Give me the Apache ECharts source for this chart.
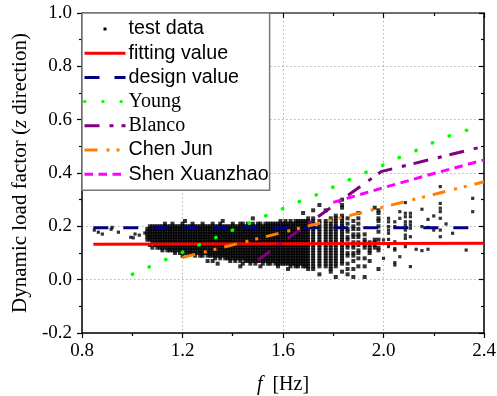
<!DOCTYPE html>
<html>
<head>
<meta charset="utf-8">
<script src="https://cdn.jsdelivr.net/npm/echarts@6/dist/echarts.min.js"></script>
<style>html,body{margin:0;padding:0;background:#fff}#c{width:497px;height:396px}</style>
</head>
<body>
<div id="c"></div>
<script>
// ---- data ----
const xTicks = [0.8, 1.2, 1.6, 2.0, 2.4];
const yTicks = [-0.2, 0.0, 0.2, 0.4, 0.6, 0.8, 1.0];

// test data, dense part: [f (Hz), list of load factors in hundredths]
const testColumns = [
 [1.06,[15,16,17,18,19]],
 [1.07,[13,15,16,17,18,19,20]],
 [1.08,[12,14,15,16,17,18,19,20]],
 [1.09,[13,14,15,16,17,18,19,20]],
 [1.10,[12,13,14,15,16,17,18,19,20]],
 [1.11,[12,13,14,15,16,17,18,19,20]],
 [1.12,[11,12,13,14,15,16,17,18,19,20]],
 [1.13,[12,13,14,15,16,17,18,19,20,21]],
 [1.14,[11,12,13,14,15,16,17,18,19,20]],
 [1.15,[11,12,13,14,15,16,17,18,19,20]],
 [1.16,[11,12,13,14,15,16,17,18,19,20,21]],
 [1.17,[10,11,12,13,14,15,16,17,18,19,20]],
 [1.18,[11,12,13,14,15,16,17,18,19,20]],
 [1.19,[10,11,12,13,14,15,16,17,18,19,20]],
 [1.20,[9,11,12,13,14,15,16,17,18,19,20,21]],
 [1.21,[10,11,12,13,14,15,16,17,18,19,20,22]],
 [1.22,[10,11,12,13,14,15,16,17,18,19,20]],
 [1.23,[10,11,12,13,14,15,16,17,18,19,20]],
 [1.24,[10,11,12,13,14,15,16,17,18,19,20,21]],
 [1.25,[9,10,11,12,13,14,15,16,17,18,19,20]],
 [1.26,[10,11,12,13,14,15,16,17,18,19,20]],
 [1.27,[9,10,11,12,13,14,15,16,17,18,19,20]],
 [1.28,[9,10,11,12,13,14,15,16,17,18,19,20,21]],
 [1.29,[10,11,12,13,14,15,16,17,18,19,20]],
 [1.30,[7,9,10,11,12,13,14,15,16,17,18,19,20]],
 [1.31,[9,10,11,12,13,14,15,16,17,18,19,20]],
 [1.32,[7,9,10,11,12,13,14,15,16,17,18,19,20,21]],
 [1.33,[8,9,10,11,12,13,14,15,16,17,18,19,20]],
 [1.34,[6,9,10,11,12,13,14,15,16,17,18,19,20]],
 [1.35,[8,9,10,11,12,13,14,15,16,17,18,19,20,21]],
 [1.36,[9,10,11,12,13,14,15,16,17,18,19,20,22]],
 [1.37,[8,9,10,11,12,13,14,15,16,17,18,19,20]],
 [1.38,[8,9,10,11,12,13,14,15,16,17,18,19,20]],
 [1.39,[7,8,9,10,11,12,13,14,15,16,17,18,19,20]],
 [1.40,[8,9,10,11,12,13,14,15,16,17,18,19,20,21]],
 [1.41,[7,8,9,10,11,12,13,14,15,16,17,18,19,20]],
 [1.42,[8,9,10,11,12,13,14,15,16,17,18,19,20]],
 [1.43,[5,7,8,9,10,11,12,13,14,15,16,17,18,19,20,21]],
 [1.44,[6,8,9,10,11,12,13,14,15,16,17,18,19,20,21]],
 [1.45,[7,8,9,10,11,12,13,14,15,16,17,18,19,20]],
 [1.46,[7,8,9,10,11,12,13,14,15,16,17,18,19,20,21]],
 [1.47,[6,7,8,9,10,11,12,13,14,15,16,17,18,19,20]],
 [1.48,[7,8,9,10,11,12,13,14,15,16,17,18,19,20,21,23]],
 [1.49,[6,7,8,9,10,11,12,13,14,15,16,17,18,19,20]],
 [1.50,[7,8,9,10,11,12,13,14,15,16,17,18,19,20,21]],
 [1.51,[5,7,8,9,10,11,12,13,14,15,16,17,18,19,20,21]],
 [1.52,[6,7,8,9,10,11,12,13,14,15,16,17,18,19,20]],
 [1.53,[7,8,9,10,11,12,13,14,15,16,17,18,19,20,21]],
 [1.54,[6,7,8,9,10,11,12,13,14,15,16,17,18,19,20,21]],
 [1.55,[6,7,8,9,10,11,12,13,14,15,16,17,18,19,20,21]],
 [1.56,[7,8,9,10,11,12,13,14,15,16,17,18,19,20,21]],
 [1.57,[6,7,8,9,10,11,12,13,14,15,16,17,18,19,20,21]],
 [1.58,[5,6,7,8,9,10,11,12,13,14,15,16,17,18,19,20,21]],
 [1.59,[6,7,8,9,10,11,12,13,14,15,16,17,18,19,20,21,22]],
 [1.60,[6,7,8,9,10,11,12,13,14,15,16,17,18,19,20,21]],
 [1.61,[6,7,8,9,10,11,12,13,14,15,16,17,18,19,20,21,22]],
 [1.62,[4,6,7,8,9,10,11,12,13,14,15,16,17,18,19,20,21]],
 [1.63,[5,6,7,8,9,10,11,12,13,14,15,16,17,18,19,20,21,22]],
 [1.64,[6,7,8,9,10,11,12,13,14,15,16,17,18,19,20,21]],
 [1.65,[5,6,7,8,9,10,11,12,13,14,15,16,17,18,19,20,21,22]],
 [1.66,[5,6,7,8,9,10,11,12,13,14,15,16,17,18,19,20,21,22]],
 [1.67,[6,7,8,9,10,11,12,13,14,15,16,17,18,19,20,21,22]],
 [1.68,[5,6,7,8,9,10,11,12,13,14,15,16,17,18,19,20,21,22,25]],
 [1.69,[5,6,7,8,9,10,11,12,13,14,15,16,17,18,19,20,21,22]],
 [1.70,[4,5,6,7,8,9,10,11,12,13,14,15,16,17,18,19,20,21,22,23]],
 [1.72,[4,5,6,7,8,9,10,11,12,13,14,15,16,17,18,19,20,21,22,23,26]],
 [1.745,[2,5,6,7,8,9,10,11,12,13,14,15,16,17,18,19,20,21,22,28]],
 [1.77,[5,6,7,8,9,10,11,12,13,14,15,16,17,18,19,20,21,22,26]],
 [1.79,[3,4,5,6,7,8,9,10,11,12,13,14,15,16,17,18,19,20,21,22,23]],
 [1.81,[1,5,6,7,8,9,10,11,12,13,14,15,16,17,18,19,20,21,22,23,24]],
 [1.835,[3,6,7,8,9,10,11,12,13,14,15,16,17,18,19,20,21,22,23,24,27,28,30]],
 [1.857,[2,4,6,9,10,12,13,15,16,18,19,21,23]],
 [1.88,[1,4,7,9,10,12,13,14,16,17,19,20,22]],
 [1.90,[5,8,10,11,13,14,16,17,19,21,23,25]],
 [1.925,[1,5,8,12,13,14,15,17]],
 [1.945,[7,10,11,12,13,14]],
 [1.965,[12,13,14,15,27]],
 [1.98,[4,11,12,15,18,20,22,23,25,26]]
];
// test data, sparse points: [f (Hz), load factor]
const testSparse = [
 [0.849,0.186],[0.865,0.178],[0.881,0.171],[0.916,0.189],[0.92,0.196],[0.945,0.178],
 [0.994,0.159],[1.004,0.157],[1.011,0.171],[1.028,0.167],[1.05,0.175],
 [2.00,0.149],[2.00,0.080],
 [2.02,0.230],[2.02,0.217],[2.02,0.199],[2.02,0.186],[2.02,0.174],[2.02,0.151],[2.02,0.124],
 [2.045,0.217],[2.045,0.199],[2.045,0.142],[2.045,0.117],[2.045,0.111],[2.045,0.064],[2.045,0.055],
 [2.065,0.255],[2.065,0.230],[2.065,0.086],
 [2.087,0.289],[2.087,0.249],[2.087,0.236],[2.087,0.217],[2.087,0.205],[2.087,0.186],[2.087,0.167],[2.087,0.155],[2.087,0.124],
 [2.107,0.249],[2.107,0.236],[2.107,0.217],[2.107,0.205],[2.107,0.193],[2.107,0.161],[2.107,0.049],
 [2.13,0.114],
 [2.153,0.264],[2.153,0.199],[2.153,0.109],
 [2.177,0.226],[2.177,0.196],[2.177,0.114],
 [2.20,0.239],[2.20,0.186],
 [2.226,0.349],[2.226,0.286],[2.226,0.268],[2.226,0.255],[2.226,0.230],[2.226,0.186],[2.226,0.161],
 [2.249,0.209],[2.275,0.174],[2.329,0.111],
 [2.355,0.305],[2.355,0.255]
];

const fitX = [0.845, 2.4];
const fitY = [0.133, 0.137];
const designX = [0.845, 2.4];
const designY = [0.195, 0.195];
const youngX = [1.0, 1.07, 1.135, 1.2, 1.265, 1.33, 1.4, 1.465, 1.53, 1.595, 1.66, 1.73, 1.79, 1.855, 1.92, 1.99, 2.055, 2.12, 2.185, 2.25, 2.32, 2.36, 2.4];
const youngY = [0.02, 0.049, 0.076, 0.103, 0.13, 0.157, 0.186, 0.211, 0.239, 0.265, 0.291, 0.317, 0.343, 0.371, 0.399, 0.426, 0.455, 0.48, 0.509, 0.535, 0.56, 0.56, 0.56];
const blancoX = [1.5, 1.99, 2.4];
const blancoY = [0.074, 0.405, 0.5];
const chenX = [1.2, 2.4];
const chenY = [0.083, 0.367];
const shenX = [1.8, 2.0, 2.2, 2.4];
const shenY = [0.29, 0.345, 0.398, 0.449];

const names = ['test data', 'fitting value', 'design value', 'Young', 'Blanco', 'Chen Jun', 'Shen Xuanzhao'];

// ---- build ----
const testData = [];
testColumns.forEach(([x, ys]) => ys.forEach(y => testData.push([x, y / 100])));
const denseCount = testData.length;
testSparse.forEach(p => testData.push(p));
const pairs = (xs, ys) => xs.map((x, i) => [x, ys[i]]);

const SERIF = 'Liberation Serif, Times New Roman, serif';
const SANS = 'Liberation Sans, Arial, sans-serif';
const fmt = v => (Math.abs(v) < 1e-9 ? '0.0' : v.toFixed(1));

function lineSeries(name, data, color, type, cap, width) {
  return {
    name, type: 'line', data, symbol: 'none', showSymbol: false, silent: true,
    lineStyle: { color, width: width || 3, type, cap: cap || 'butt' },
    itemStyle: { color }, z: 3
  };
}

const chart = echarts.init(document.getElementById('c'), null, { renderer: 'canvas' });
chart.setOption({
  animation: false,
  backgroundColor: '#fff',
  grid: { left: 82, right: 13, top: 13, bottom: 63, containLabel: false, outerBoundsMode: 'none' },
  xAxis: [{
    type: 'value', min: 0.8, max: 2.4, interval: 0.4, position: 'bottom',
    name: '{i|f}  [Hz]', nameLocation: 'middle', nameGap: 42,
    nameTextStyle: { fontFamily: SERIF, fontSize: 20, color: '#000', rich: { i: { fontFamily: SERIF, fontStyle: 'italic', fontSize: 20, color: '#000' } } },
    axisLine: { show: true, onZero: false, lineStyle: { color: '#000', width: 1.5 } },
    axisTick: { show: true, inside: false, length: 5, lineStyle: { color: '#000', width: 1.2 } },
    minorTick: { show: true, splitNumber: 2, length: 3, lineStyle: { color: '#000', width: 1.2 } },
    splitLine: { show: true, lineStyle: { color: '#b0b0b0', type: [1.5, 2.5], width: 1 } },
    axisLabel: { fontFamily: SERIF, fontSize: 19, color: '#000', margin: 9, formatter: fmt }
  }, {
    type: 'value', min: 0.8, max: 2.4, interval: 0.4, position: 'top',
    axisLine: { show: true, onZero: false, lineStyle: { color: '#444', width: 1.5 } },
    axisTick: { show: true, inside: true, length: 5, lineStyle: { color: '#000', width: 1.2 } },
    minorTick: { show: true, splitNumber: 2, length: 3, lineStyle: { color: '#000', width: 1.2 } },
    splitLine: { show: false }, axisLabel: { show: false }
  }],
  yAxis: [{
    type: 'value', min: -0.2, max: 1.0, interval: 0.2, position: 'left',
    name: 'Dynamic load factor ({i|z} direction)', nameLocation: 'middle', nameGap: 51,
    nameTextStyle: { fontFamily: SERIF, fontSize: 21, color: '#000', rich: { i: { fontFamily: SERIF, fontStyle: 'italic', fontSize: 21, color: '#000' } } },
    axisLine: { show: true, onZero: false, lineStyle: { color: '#000', width: 1.5 } },
    axisTick: { show: true, inside: false, length: 5, lineStyle: { color: '#000', width: 1.2 } },
    minorTick: { show: true, splitNumber: 2, length: 3, lineStyle: { color: '#000', width: 1.2 } },
    splitLine: { show: true, lineStyle: { color: '#b0b0b0', type: [1.5, 2.5], width: 1 } },
    axisLabel: { fontFamily: SERIF, fontSize: 19, color: '#000', margin: 10, formatter: fmt }
  }, {
    type: 'value', min: -0.2, max: 1.0, interval: 0.2, position: 'right',
    axisLine: { show: true, onZero: false, lineStyle: { color: '#000', width: 1.5 } },
    axisTick: { show: true, inside: true, length: 5, lineStyle: { color: '#000', width: 1.2 } },
    minorTick: { show: true, splitNumber: 2, length: 3, lineStyle: { color: '#000', width: 1.2 } },
    splitLine: { show: false }, axisLabel: { show: false }
  }],
  legend: {
    orient: 'vertical', left: 82, top: 13,
    padding: [6, 1, 6, 1], itemWidth: 41, itemHeight: 14, itemGap: 4.2,
    backgroundColor: '#fff', borderColor: '#7a7a7a', borderWidth: 1.5, borderRadius: 0,
    selectedMode: false, z: 10,
    lineStyle: { width: 3 },
    itemStyle: { borderWidth: 0, opacity: 0 },
    textStyle: { fontFamily: SANS, fontSize: 19.7, color: '#000', padding: [0, 0, 0, -2],
      rich: { s: { fontFamily: SERIF, fontSize: 20, color: '#000' } } },
    formatter: n => (n === 'Young' || n === 'Blanco') ? '{s|' + n + '}' : n,
    data: [
      { name: names[0], icon: 'path://M0,0M41,14M19,5.5h3v3h-3z', itemStyle: { opacity: 1, color: '#000' } },
      names[1], names[2], names[3], names[4], names[5], names[6]
    ]
  },
  series: [
    { name: names[0], type: 'scatter', data: testData, symbol: 'rect',
      symbolSize: (v, p) => (p.dataIndex < denseCount ? 4 : 3.2),
      itemStyle: { color: '#000' }, silent: true, z: 2, large: false, progressive: 0 },
    lineSeries(names[1], pairs(fitX, fitY), '#ff0000', 'solid'),
    lineSeries(names[2], pairs(designX, designY), '#000080', [15, 15]),
    lineSeries(names[3], pairs(youngX, youngY), '#00ff00', [0.5, 17.7], 'round', 3.5),
    lineSeries(names[4], pairs(blancoX, blancoY), '#800080', [15, 10, 4, 8]),
    lineSeries(names[5], pairs(chenX, chenY), '#ff8000', [13, 9, 3, 7, 3, 8]),
    lineSeries(names[6], pairs(shenX, shenY), '#ff00ff', [8.5, 5.5])
  ]
});
</script>
</body>
</html>
